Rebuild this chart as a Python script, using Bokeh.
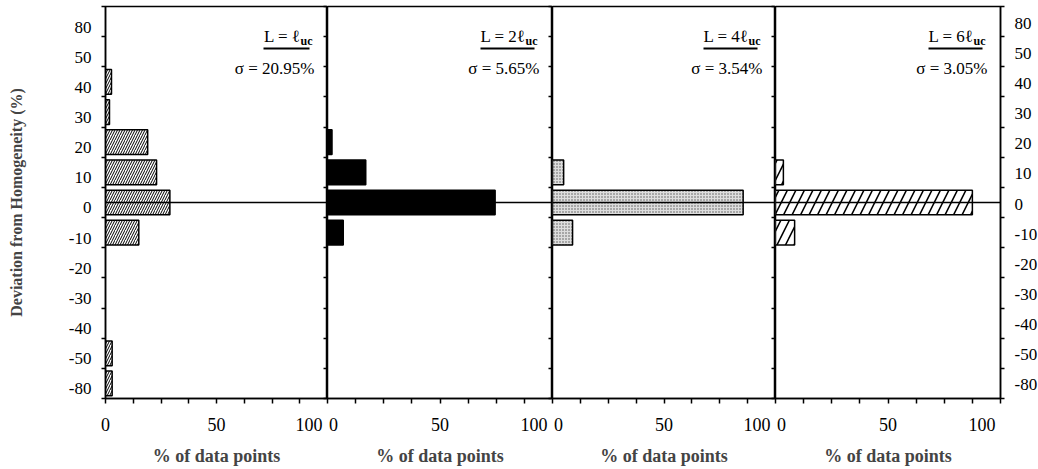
from bokeh.plotting import figure
from bokeh.layouts import row
from bokeh.models import Range1d, FixedTicker, Span, Label, LinearAxis, ColumnDataSource, Arrow
from bokeh.embed import file_html
from bokeh.resources import INLINE

# ---------------- data ----------------
deviation_bins = ["80", "50", "40", "30", "20", "10", "0", "-10", "-20", "-30", "-40", "-50", "-80"]
pct_L1 = [0, 0, 2.7, 1.8, 19, 23, 29, 15, 0, 0, 0, 3, 3]
pct_L2 = [0, 0, 0, 0, 2, 17, 74.5, 7, 0, 0, 0, 0, 0]
pct_L4 = [0, 0, 0, 0, 0, 5, 85.5, 9, 0, 0, 0, 0, 0]
pct_L6 = [0, 0, 0, 0, 0, 3.5, 87.5, 8.5, 0, 0, 0, 0, 0]
series = [pct_L1, pct_L2, pct_L4, pct_L6]
panel_L = ["L = \u2113", "L = 2\u2113", "L = 4\u2113", "L = 6\u2113"]
panel_sub = "uc"
panel_sigma = ["\u03c3 = 20.95%", "\u03c3 = 5.65%", "\u03c3 = 3.54%", "\u03c3 = 3.05%"]
x_ticks = [0, 50, 100]
x_title = "% of data points"
y_title = "Deviation from Homogeneity (%)"

# ---------------- styles ----------------
FONT = "Liberation Serif"
frame_widths = [222, 225, 223, 225]
FRAME_H = 392
n = len(deviation_bins)
unit = FRAME_H / n
centers = [n - 1 - i + 0.5 for i in range(n)]
boundaries = list(range(n + 1))
fills = [
    dict(fill_color="white", hatch_pattern="/", hatch_scale=5, hatch_weight=1, hatch_color="black"),
    dict(fill_color="black"),
    dict(fill_color="#dddddd", hatch_pattern=".", hatch_scale=3, hatch_weight=1, hatch_color="#555555"),
    dict(fill_color="white", hatch_pattern="/", hatch_scale=17, hatch_weight=1.6, hatch_color="black"),
]


def style_y(ax, labels, offset, tick_out, tick_in, size="17px"):
    if labels:
        pos = [round(c - offset, 3) for c in centers]
        ax.ticker = FixedTicker(ticks=pos, minor_ticks=boundaries)
        ax.major_label_overrides = {p: lab for p, lab in zip(pos, deviation_bins)}
        ax.major_label_text_font = FONT
        ax.major_label_text_font_size = size
        ax.major_label_text_color = "black"
        ax.major_label_standoff = 10
    else:
        ax.ticker = FixedTicker(ticks=[], minor_ticks=boundaries)
        ax.major_label_standoff = 0
    ax.major_tick_line_color = None
    ax.major_tick_out = 0
    ax.major_tick_in = 0
    ax.minor_tick_out = tick_out
    ax.minor_tick_in = tick_in
    ax.minor_tick_line_color = "black"
    ax.minor_tick_line_width = 1.5
    ax.axis_line_color = "black"
    ax.axis_line_width = 1.5


figs = []
for k in range(4):
    fw = frame_widths[k]
    ppu = fw / 100.0
    p = figure(frame_width=fw, frame_height=FRAME_H,
               x_range=Range1d(0, 100), y_range=Range1d(0, n),
               output_backend="svg", toolbar_location=None,
               y_axis_location="left" if k == 0 else "right",
               min_border=0,
               min_border_left=105 if k == 0 else 0,
               min_border_right=38 if k == 3 else 0,
               min_border_top=6, min_border_bottom=71,
               outline_line_color="black", outline_line_width=1.5,
               background_fill_color="white", border_fill_color="white")
    p.xgrid.visible = False
    p.ygrid.visible = False

    vals = series[k]
    src = ColumnDataSource(dict(
        y=[c for c, v in zip(centers, vals) if v > 0],
        right=[v for v in vals if v > 0],
        bin=[b for b, v in zip(deviation_bins, vals) if v > 0],
    ))
    p.hbar(y="y", left=0, right="right", height=0.82, source=src,
           line_color="black", line_width=1.5, **fills[k])

    zero_y = centers[deviation_bins.index("0")]
    p.add_layout(Span(location=zero_y, dimension="width", line_color="black", line_width=1.5))

    # y axes
    if k == 0:
        style_y(p.yaxis[0], True, 0.18, 4, 0)
        p.yaxis[0].axis_label = y_title
        p.yaxis[0].axis_label_text_font = FONT
        p.yaxis[0].axis_label_text_font_style = "bold"
        p.yaxis[0].axis_label_text_font_size = "16px"
        p.yaxis[0].axis_label_standoff = 41
        rax = LinearAxis()
        p.add_layout(rax, "right")
        style_y(rax, False, 0, 0, 4)
    elif k < 3:
        style_y(p.yaxis[0], False, 0, 0, 4)
    else:
        style_y(p.yaxis[0], True, 0.05, 4, 0)

    # x axis (tick marks only)
    xa = p.xaxis[0]
    xa.ticker = FixedTicker(ticks=[], minor_ticks=[i * 12.5 for i in range(9)])
    xa.minor_tick_out = 5
    xa.minor_tick_in = 0
    xa.minor_tick_line_width = 1.5
    xa.major_label_standoff = 0
    xa.axis_line_width = 1.5

    # x axis (tick labels + title)
    label_pos = []
    for t in x_ticks:
        if t == 0:
            label_pos.append(0 if k == 0 else round(6 / ppu, 3))
        elif t == 100:
            label_pos.append(round(100 - 18.5 / ppu, 3))
        else:
            label_pos.append(t)
    xb = LinearAxis(ticker=FixedTicker(ticks=label_pos, minor_ticks=[]))
    xb.major_label_overrides = {lp: str(t) for lp, t in zip(label_pos, x_ticks)}
    xb.major_tick_line_color = None
    xb.major_tick_out = 0
    xb.major_tick_in = 0
    xb.minor_tick_line_color = None
    xb.axis_line_color = None
    xb.major_label_text_font = FONT
    xb.major_label_text_font_size = "18px"
    xb.major_label_text_color = "black"
    xb.major_label_standoff = 14
    xb.axis_label = x_title
    xb.axis_label_text_font = FONT
    xb.axis_label_text_font_style = "bold"
    xb.axis_label_text_font_size = "18px"
    xb.axis_label_standoff = 12
    p.add_layout(xb, "below")

    # separator line below the right edge of each panel
    p.add_layout(Arrow(end=None, x_start=100, y_start=0, x_end=100, y_end=-(432 - 398) / unit,
                       line_color="black", line_width=1.5))

    # annotation: L = n l_uc (underlined) and sigma
    y_L = n - (36 - 6) / unit
    y_sub = n - (40 - 6) / unit
    y_ul = n - (48 - 6) / unit
    y_sig = n - (68 - 6) / unit
    sub_w = 12
    p.add_layout(Label(x=100, y=y_sub, x_offset=-15, text=panel_sub, text_align="right",
                       text_baseline="middle", text_font=FONT, text_font_size="12px",
                       text_font_style="bold", text_color="black"))
    p.add_layout(Label(x=100, y=y_L, x_offset=-15 - sub_w, text=panel_L[k], text_align="right",
                       text_baseline="middle", text_font=FONT, text_font_size="17px",
                       text_color="black"))
    main_w = 37 if k == 0 else 45
    x_end = 100 - (15 + 3) / ppu
    x_start = 100 - (15 + sub_w + main_w) / ppu
    p.segment(x0=[x_start], x1=[x_end], y0=[y_ul], y1=[y_ul], line_color="black", line_width=2)
    p.add_layout(Label(x=100, y=y_sig, x_offset=-13, text=panel_sigma[k], text_align="right",
                       text_baseline="middle", text_font=FONT, text_font_size="17px",
                       text_color="black"))
    figs.append(p)

layout = row(*figs, spacing=0)
open("out.html", "w").write(file_html(layout, INLINE))
